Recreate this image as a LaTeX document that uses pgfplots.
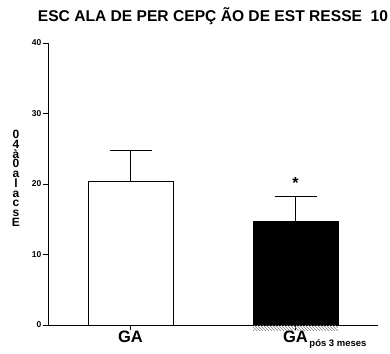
\documentclass[border=0pt]{standalone}
\usepackage{pgfplots}
\pgfplotsset{compat=1.18}
\usetikzlibrary{patterns}
\usepackage{fontspec}
\setmainfont{Liberation Sans}
\begin{document}
\begin{tikzpicture}
\path[use as bounding box] (-48pt,-28pt) rectangle (342pt,325pt);
\begin{axis}[
  at={(0,0)}, anchor=origin,
  scale only axis, width=330pt, height=282pt,
  xmin=0, xmax=4, ymin=0, ymax=40,
  clip=false,
  axis x line=bottom, axis y line=left,
  axis line style={-, line width=0.8pt, black},
  xtick={1,3},
  xticklabels={GA, {GA\rlap{\raisebox{-3.5pt}{\fontsize{9.5}{10}\selectfont\bfseries\,pós 3 meses}}}},
  ytick={0,10,20,30,40},
  tick align=outside, major tick length=5pt,
  tick style={line width=0.8pt, black},
  /pgf/number format/assume math mode=true,
  yticklabel style={font=\fontsize{8.5}{9}\selectfont\bfseries, inner sep=1.5pt},
  xticklabel style={font=\fontsize{16.5}{18}\selectfont\bfseries, inner sep=1pt},
  title={ESC ALA DE PER CEPÇ ÃO DE EST RESSE\ \ 10},
  title style={at={(axis description cs:0.5,1)}, anchor=base, yshift=16pt, font=\fontsize{15.6}{18}\selectfont\bfseries},
  every axis y label/.style={at={(axis description cs:-0.097,0.52)}, anchor=center, align=center, font=\fontsize{12}{9.7}\selectfont\bfseries},
  ylabel={0\\4\\à\\0\\a\\l\\a\\c\\s\\E},
  ybar, bar width=1.03, bar shift=0pt,
]
\addplot[draw=black, fill=white, line width=0.8pt,
  error bars/.cd, y dir=plus, y explicit, error mark=|,
  error bar style={line width=0.8pt, black},
  error mark options={line width=0.8pt, black, mark size=21pt}]
  coordinates {(1,20.4) +- (0,4.3)};
\addplot[draw=black, fill=black, line width=0.8pt,
  error bars/.cd, y dir=plus, y explicit, error mark=|,
  error bar style={line width=0.8pt, black},
  error mark options={line width=0.8pt, black, mark size=21pt}]
  coordinates {(3,14.75) +- (0,3.55)};
\fill[pattern=north west lines, pattern color=gray] (axis cs:2.485,0) rectangle (axis cs:3.515,-0.8);
\node[font=\fontsize{16}{18}\selectfont\bfseries] at (axis cs:3,20.1) {*};
\end{axis}
\end{tikzpicture}
\end{document}
